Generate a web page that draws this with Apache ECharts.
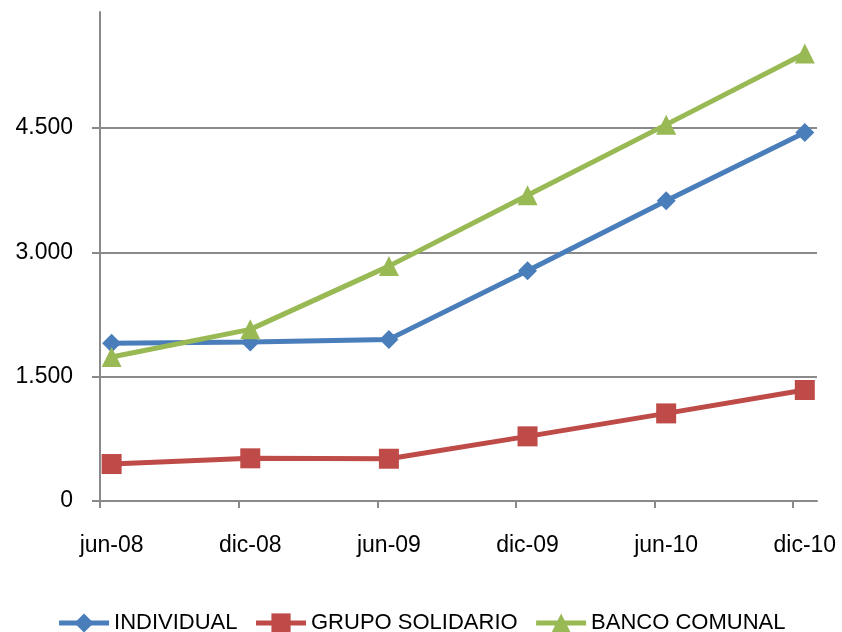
<!DOCTYPE html>
<html>
<head>
<meta charset="utf-8">
<script src="https://cdn.jsdelivr.net/npm/echarts@6/dist/echarts.min.js"></script>
<style>html,body{margin:0;padding:0;background:#fff}#c{width:842px;height:632px}</style>
</head>
<body>
<div id="c"></div>
<script>
var categories = ['jun-08', 'dic-08', 'jun-09', 'dic-09', 'jun-10', 'dic-10'];
var individual = [1902, 1918, 1950, 2777, 3622, 4447];
var grupoSolidario = [446, 515, 510, 780, 1057, 1339];
var bancoComunal = [1737, 2071, 2834, 3690, 4541, 5399];
var yTickValues = [0, 1500, 3000, 4500];
var yMax = 5900;
var xMin = -0.084, xMax = 5.088;

function fmt(v) { return String(v).replace(/\B(?=(\d{3})+(?!\d))/g, '.'); }
function pts(arr) { return arr.map(function (v, i) { return [i, v]; }); }

var xTicks = categories.map(function (c, i) { return xMin + i; });
var xLabels = categories.map(function (c, i) { return i; });

var chart = echarts.init(document.getElementById('c'), null, { renderer: 'canvas' });
var axisColor = '#898989';
var font = 'Liberation Sans, Arial, sans-serif';
chart.setOption({
  animation: false,
  backgroundColor: '#ffffff',
  grid: { left: 100, right: 25, top: 12, bottom: 131, containLabel: false },
  xAxis: {
    type: 'value', min: xMin, max: xMax,
    axisLine: { show: true, onZero: false, lineStyle: { color: axisColor, width: 2 } },
    axisTick: { show: true, length: 7, customValues: xTicks, lineStyle: { color: axisColor, width: 2 } },
    axisLabel: { customValues: xLabels, margin: 33, fontSize: 23, fontFamily: font, color: '#000',
      formatter: function (v) { return categories[Math.round(v)]; } },
    splitLine: { show: false }
  },
  yAxis: {
    type: 'value', min: 0, max: yMax,
    axisLine: { show: true, onZero: false, lineStyle: { color: axisColor, width: 2 } },
    axisTick: { show: true, length: 8, customValues: yTickValues, lineStyle: { color: axisColor, width: 2 } },
    axisLabel: { customValues: yTickValues, margin: 27, fontSize: 23, fontFamily: font, color: '#000',
      formatter: function (v) { return fmt(v); } },
    splitLine: { show: true, lineStyle: { color: axisColor, width: 2 } }
  },
  legend: {
    top: 607, left: 'center', itemWidth: 50, itemHeight: 24, itemGap: 16,
    lineStyle: { width: 5 },
    textStyle: { fontSize: 22, fontFamily: font, color: '#000' },
    data: ['INDIVIDUAL', 'GRUPO SOLIDARIO', 'BANCO COMUNAL']
  },
  series: [
    { name: 'INDIVIDUAL', type: 'line', data: pts(individual), symbol: 'diamond', symbolSize: 19,
      lineStyle: { width: 5, color: '#4A7EBB' }, itemStyle: { color: '#4A7EBB' }, z: 3 },
    { name: 'GRUPO SOLIDARIO', type: 'line', data: pts(grupoSolidario), symbol: 'rect', symbolSize: 20,
      lineStyle: { width: 5, color: '#BE4B48' }, itemStyle: { color: '#BE4B48' }, z: 2 },
    { name: 'BANCO COMUNAL', type: 'line', data: pts(bancoComunal), symbol: 'triangle', symbolSize: 20,
      lineStyle: { width: 5, color: '#98B954' }, itemStyle: { color: '#98B954' }, z: 4 }
  ]
});
</script>
</body>
</html>
